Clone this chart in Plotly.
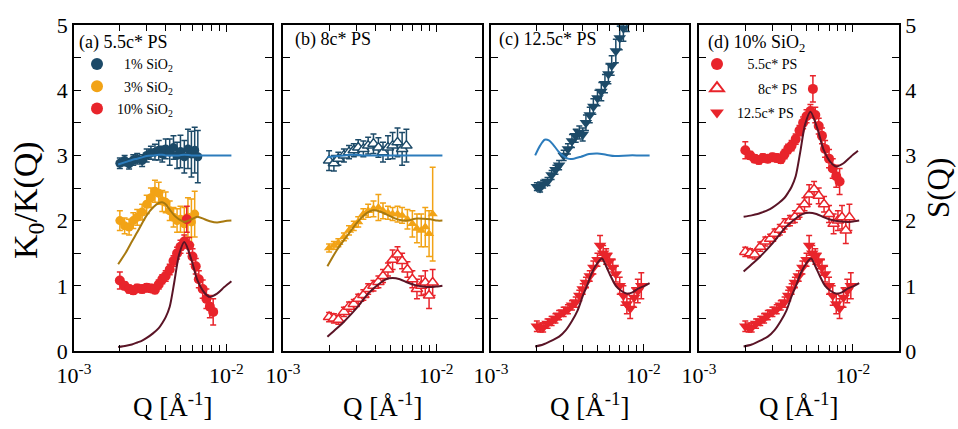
import numpy as np
import plotly.graph_objects as go

# ---------------- data (Q in units of 1e-3 A^-1, values as plotted) ----------------
# Panel (a) 5.5c* PS
QA_BLUE = [2.0,2.15,2.3,2.45,2.6,2.8,3.0,3.2,3.4,3.6,3.8,4.0,4.25,4.5,4.75,5.0,5.3,5.6,5.9,6.2,6.5]
A_BLUE = [2.88,2.92,2.87,2.93,2.95,2.92,3.00,3.04,3.05,3.08,3.02,3.10,3.05,3.12,3.00,3.06,2.98,3.10,3.02,3.08,2.98]
A_BLUE_ERR = [0.08,0.08,0.08,0.08,0.08,0.09,0.10,0.10,0.12,0.15,0.12,0.15,0.20,0.18,0.20,0.25,0.25,0.30,0.35,0.35,0.40]

QA_ORANGE = [2.0,2.15,2.3,2.45,2.6,2.8,3.0,3.2,3.4,3.6,3.8,4.0,4.25,4.5,4.75,5.0,5.3,5.6,5.9,6.2]
A_ORANGE = [2.00,1.92,1.90,2.00,2.05,2.13,2.25,2.35,2.45,2.42,2.30,2.28,2.15,2.05,2.00,2.02,1.95,2.05,1.98,2.10]
A_ORANGE_ERR = [0.15,0.12,0.12,0.12,0.12,0.12,0.14,0.15,0.17,0.17,0.16,0.16,0.15,0.15,0.18,0.20,0.25,0.30,0.35,0.35]

QA_RED = [2.0,2.15,2.3,2.45,2.6,2.8,3.0,3.2,3.4,3.6,3.8,4.0,4.25,4.5,4.75,5.0,5.3,5.5,5.7,6.0,6.3,6.6,7.0,7.4,7.8,8.2]
A_RED = [1.08,1.00,0.95,0.93,0.96,0.95,0.97,0.96,0.94,1.02,1.10,1.15,1.25,1.38,1.50,1.60,1.68,2.02,1.62,1.45,1.30,1.10,0.95,0.80,0.68,0.60]
A_RED_ERR = [0.13,0.06,0.06,0.06,0.06,0.06,0.06,0.06,0.06,0.07,0.07,0.08,0.08,0.08,0.09,0.10,0.10,0.20,0.12,0.12,0.12,0.13,0.14,0.15,0.17,0.20]

QA_LINE = [1.95,2.2,2.4,2.6,2.8,3.0,3.3,3.6,3.8,4.0,4.25,4.55,4.9,5.3,5.9,6.45,7.2,7.8,8.7,9.7,10.8]
A_BLUE_LINE = [2.86,2.90,2.93,2.95,2.97,2.99,3.00,3.01,3.01,3.00,3.00,3.00,3.00,3.01,3.00,3.00,3.00,3.00,3.00,3.00,3.00]
A_ORANGE_LINE = [1.33,1.52,1.68,1.82,1.96,2.08,2.20,2.27,2.28,2.25,2.17,2.08,2.02,1.98,2.02,2.06,2.02,1.99,1.97,1.99,2.00]
A_RED_LINE = [0.06,0.08,0.10,0.13,0.16,0.20,0.27,0.35,0.43,0.52,0.68,1.05,1.48,1.67,1.40,1.09,0.89,0.83,0.88,0.98,1.07]

# Panel (b) 8c* PS
QB_BLUE = [2.0,2.15,2.3,2.5,2.7,2.9,3.1,3.35,3.6,3.9,4.2,4.5,4.85,5.2,5.6,6.0,6.4]
B_BLUE = [2.92,2.88,2.95,3.00,3.05,3.08,3.12,3.10,3.15,3.18,3.12,3.05,3.12,3.15,3.20,3.10,3.15]
B_BLUE_ERR = [0.15,0.12,0.10,0.10,0.10,0.10,0.12,0.12,0.13,0.15,0.15,0.15,0.18,0.20,0.22,0.25,0.25]

QB = [2.0,2.15,2.3,2.5,2.7,2.9,3.1,3.35,3.6,3.9,4.2,4.5,4.85,5.2,5.6,6.0,6.5,7.0,7.5,8.0,8.5,9.0,9.5]
B_ORANGE = [1.58,1.62,1.66,1.75,1.85,1.92,1.98,2.10,2.15,2.18,2.20,2.15,2.12,2.10,2.10,2.08,2.02,1.95,1.88,1.85,1.90,1.80,2.10]
B_ORANGE_ERR = [0.06,0.06,0.06,0.06,0.07,0.07,0.08,0.08,0.10,0.12,0.20,0.12,0.10,0.10,0.12,0.12,0.15,0.20,0.22,0.25,0.30,0.35,0.72]
B_RED = [0.52,0.50,0.48,0.60,0.68,0.72,0.80,0.86,0.95,1.00,1.06,1.15,1.25,1.40,1.48,1.38,1.25,1.10,0.95,1.00,1.05,0.85,1.05]
B_RED_ERR = [0.07,0.07,0.07,0.07,0.07,0.07,0.07,0.08,0.08,0.08,0.09,0.10,0.10,0.15,0.12,0.12,0.12,0.13,0.15,0.15,0.18,0.20,0.20]

QB_LINE = [1.95,2.25,2.5,2.75,3.0,3.3,3.6,3.9,4.3,4.7,5.2,5.8,6.5,7.3,8.2,9.2,10.2,11.0]
B_BLUE_LINE = [2.97,2.99,3.00,3.01,3.01,3.00,3.00,3.00,3.00,3.00,3.00,3.00,3.00,3.00,3.00,3.00,3.00,3.00]
B_ORANGE_LINE = [1.30,1.55,1.70,1.83,1.95,2.06,2.13,2.16,2.14,2.10,2.05,2.01,2.00,2.03,2.03,2.02,2.00,2.00]
B_RED_LINE = [0.22,0.35,0.45,0.55,0.65,0.77,0.88,0.96,1.04,1.10,1.12,1.10,1.05,1.01,0.99,0.98,0.99,1.00]

# Panel (c) 12.5c* PS
QC_BLUE = [2.0,2.1,2.2,2.35,2.5,2.65,2.8,3.0,3.2,3.4,3.6,3.8,4.0,4.2,4.45,4.7,5.0,5.3,5.6,5.9,6.2,6.6,7.0,7.4,7.8]
C_BLUE = [2.52,2.50,2.56,2.60,2.70,2.78,2.85,3.00,3.10,3.22,3.30,3.35,3.32,3.50,3.62,3.75,3.88,3.98,4.10,4.25,4.38,4.60,4.80,4.95,5.10]
C_BLUE_ERR = [0.06,0.06,0.06,0.06,0.07,0.07,0.07,0.08,0.08,0.10,0.10,0.10,0.10,0.12,0.12,0.12,0.12,0.14,0.14,0.15,0.15,0.18,0.18,0.20,0.20]

QC_RED = [2.0,2.1,2.2,2.35,2.5,2.65,2.8,3.0,3.2,3.4,3.6,3.8,4.0,4.2,4.45,4.7,5.0,5.2,5.45,5.7,6.0,6.3,6.6,7.0,7.4,7.8,8.2,8.7,9.2,9.7]
C_RED = [0.38,0.36,0.36,0.42,0.46,0.50,0.55,0.60,0.64,0.70,0.75,0.85,0.95,1.05,1.15,1.28,1.40,1.62,1.50,1.45,1.38,1.28,1.18,1.00,0.85,0.72,0.65,0.82,0.92,1.00]
C_RED_ERR = [0.08,0.07,0.07,0.07,0.07,0.07,0.07,0.07,0.07,0.07,0.08,0.08,0.08,0.08,0.08,0.10,0.10,0.15,0.12,0.12,0.12,0.12,0.12,0.13,0.15,0.15,0.15,0.15,0.18,0.20]

QC_BLUE_LINE = [1.95,2.1,2.25,2.4,2.55,2.75,2.95,3.2,3.5,3.9,4.4,5.0,5.7,6.5,8.0,9.5,11.0]
C_BLUE_LINE = [3.00,3.15,3.24,3.23,3.17,3.07,3.00,2.95,2.95,2.98,3.02,3.03,3.01,2.99,3.00,3.00,3.00]
QC_RED_LINE = [1.95,2.2,2.5,2.8,3.1,3.4,3.7,4.0,4.3,4.6,5.0,5.35,5.7,6.1,6.6,7.2,7.8,8.5,9.3,10.2,11.0]
C_RED_LINE = [0.07,0.10,0.16,0.22,0.32,0.46,0.62,0.84,1.02,1.20,1.35,1.42,1.30,1.15,1.00,0.92,0.88,0.90,0.96,1.00,1.04]

# Panel (d) 10% SiO2: the three red series, vertically shifted
D_OFFSETS = [2, 1, 0]

X_TICKVALS = [1e-3, 1e-2]
X_TICKTEXT = ["10<sup>-3</sup>", "10<sup>-2</sup>"]
X_MINOR = [2e-3, 3e-3, 4e-3, 5e-3, 6e-3, 7e-3, 8e-3, 9e-3]

# ---------------- styling ----------------
NAVY = "#1c4a68"
BLUE_LINE = "#2c7cbc"
ORANGE = "#f2a316"
ORANGE_LINE = "#a8790f"
RED = "#e8242b"
MAROON = "#5a1426"
FONT = "Liberation Serif"

def q(arr):
    return np.array(arr) * 1e-3

fig = go.Figure()

def add_points(ax, qv, yv, err, color, symbol, fill=None, size=9, offset=0.0):
    fig.add_trace(go.Scatter(
        x=q(qv), y=np.array(yv) + offset, mode="markers",
        marker=dict(symbol=symbol, size=size, color=fill if fill else color,
                    line=dict(color=color, width=1.5 if fill else 0)),
        error_y=dict(type="data", array=err, color=color, thickness=1.5, width=3),
        xaxis="x" + ax, yaxis="y" + ax, showlegend=False))

def add_line(ax, qv, yv, color, offset=0.0):
    fig.add_trace(go.Scatter(
        x=q(qv), y=np.array(yv) + offset, mode="lines",
        line=dict(color=color, width=2, shape="spline", smoothing=0.8),
        xaxis="x" + ax, yaxis="y" + ax, showlegend=False, hoverinfo="skip"))

# panel a
add_points("", QA_BLUE, A_BLUE, A_BLUE_ERR, NAVY, "circle")
add_points("", QA_ORANGE, A_ORANGE, A_ORANGE_ERR, ORANGE, "circle")
add_points("", QA_RED, A_RED, A_RED_ERR, RED, "circle", size=10)
add_line("", QA_LINE, A_BLUE_LINE, BLUE_LINE)
add_line("", QA_LINE, A_ORANGE_LINE, ORANGE_LINE)
add_line("", QA_LINE, A_RED_LINE, MAROON)

# panel b
add_points("2", QB, B_ORANGE, B_ORANGE_ERR, ORANGE, "triangle-up", size=9)
add_points("2", QB_BLUE, B_BLUE, B_BLUE_ERR, NAVY, "triangle-up", fill="white", size=10)
add_points("2", QB, B_RED, B_RED_ERR, RED, "triangle-up", fill="white", size=10)
add_line("2", QB_LINE, B_BLUE_LINE, BLUE_LINE)
add_line("2", QB_LINE, B_ORANGE_LINE, ORANGE_LINE)
add_line("2", QB_LINE, B_RED_LINE, MAROON)

# panel c
add_points("3", QC_BLUE, C_BLUE, C_BLUE_ERR, NAVY, "triangle-down", size=11)
add_points("3", QC_RED, C_RED, C_RED_ERR, RED, "triangle-down", size=11)
add_line("3", QC_BLUE_LINE, C_BLUE_LINE, BLUE_LINE)
add_line("3", QC_RED_LINE, C_RED_LINE, MAROON)

# panel d
add_points("4", QA_RED, A_RED, A_RED_ERR, RED, "circle", size=10, offset=D_OFFSETS[0])
add_points("4", QB, B_RED, B_RED_ERR, RED, "triangle-up", fill="white", size=10, offset=D_OFFSETS[1])
add_points("4", QC_RED, C_RED, C_RED_ERR, RED, "triangle-down", size=11, offset=D_OFFSETS[2])
add_line("4", QA_LINE, A_RED_LINE, MAROON, offset=D_OFFSETS[0])
add_line("4", QB_LINE, B_RED_LINE, MAROON, offset=D_OFFSETS[1])
add_line("4", QC_RED_LINE, C_RED_LINE, MAROON, offset=D_OFFSETS[2])

# legend entries
NB = "\u00a0"
def legend_entry(name, color, symbol, legend, ax, fill=None, group=None):
    fig.add_trace(go.Scatter(
        x=[None], y=[None], mode="markers", name=name,
        marker=dict(symbol=symbol, size=12, color=fill if fill else color,
                    line=dict(color=color, width=1.5 if fill else 0)),
        legend=legend, legendgroup=group, xaxis="x" + ax, yaxis="y" + ax))

legend_entry(NB * 2 + "1% SiO<sub>2</sub>", NAVY, "circle", "legend", "", group="a1")
legend_entry(NB * 2 + "3% SiO<sub>2</sub>", ORANGE, "circle", "legend", "", group="a2")
legend_entry("10% SiO<sub>2</sub>", RED, "circle", "legend", "", group="a3")
legend_entry(NB * 3 + "5.5c* PS", RED, "circle", "legend2", "4", group="d1")
legend_entry(NB * 6 + "8c* PS", RED, "triangle-up", "legend2", "4", fill="white", group="d2")
legend_entry("12.5c* PS", RED, "triangle-down", "legend2", "4", group="d3")

# ---------------- layout ----------------
L, R, T, B = 74, 59, 25, 78
W, H = 958, 429
PW = W - L - R
PH = H - T - B
panels_px = [(74, 272), (283, 482), (491, 689), (699, 899)]
domains = [[(a - L) / PW, (b - L) / PW] for a, b in panels_px]

def px_x(p):
    return (p - L) / PW

def px_y(p):
    return (H - B - p) / PH

axis_common = dict(showline=True, linecolor="black", linewidth=1.5, mirror="ticks",
                   ticks="inside", tickcolor="black", tickwidth=1.2, showgrid=False,
                   zeroline=False, tickfont=dict(family=FONT, size=22, color="black"))

layout = dict(
    width=W, height=H, margin=dict(l=L, r=R, t=T, b=B),
    paper_bgcolor="white", plot_bgcolor="white",
    font=dict(family=FONT, color="black"),
    showlegend=True,
)
for i, dom in enumerate(domains):
    sfx = "" if i == 0 else str(i + 1)
    layout["xaxis" + sfx] = dict(
        axis_common, type="log", range=[-3, -1.7], domain=dom,
        anchor="y" + sfx, tickvals=X_TICKVALS, ticktext=X_TICKTEXT, ticklen=7,
        ticklabelstandoff=4,
        minor=dict(tickvals=X_MINOR, ticks="inside", ticklen=6, tickcolor="black", tickwidth=1.2))
    ya = dict(axis_common, range=[0, 5], dtick=1, ticklen=7, anchor="x" + sfx,
              minor=dict(dtick=0.5, ticks="inside", ticklen=7, tickcolor="black", tickwidth=1.2),
              showticklabels=(i in (0, 3)))
    if i == 3:
        ya["side"] = "right"
    layout["yaxis" + sfx] = ya

layout["legend"] = dict(
    x=px_x(77), y=1.0, xanchor="left", yanchor="top", bgcolor="rgba(0,0,0,0)",
    title=dict(text="(a) 5.5c* PS", font=dict(family=FONT, size=18)),
    font=dict(family=FONT, size=14), itemsizing="constant", tracegroupgap=1)
layout["legend2"] = dict(
    x=px_x(697), y=1.0, xanchor="left", yanchor="top", bgcolor="rgba(0,0,0,0)",
    title=dict(text=NB * 2 + "(d) 10% SiO<sub>2</sub>", font=dict(family=FONT, size=18)),
    font=dict(family=FONT, size=14), itemsizing="constant", tracegroupgap=3)

fig.update_layout(**layout)

ann = []
ann.append(dict(text="(b) 8c* PS", x=px_x(293), y=px_y(40), xref="paper", yref="paper",
                xanchor="left", yanchor="middle", showarrow=False, font=dict(family=FONT, size=18)))
ann.append(dict(text="(c) 12.5c* PS", x=px_x(497), y=px_y(40), xref="paper", yref="paper",
                xanchor="left", yanchor="middle", showarrow=False, font=dict(family=FONT, size=18)))
for a, b in panels_px:
    ann.append(dict(text="Q [Å<sup>-1</sup>]", x=px_x((a + b) / 2), y=px_y(405), xref="paper",
                    yref="paper", xanchor="center", yanchor="middle", showarrow=False,
                    font=dict(family=FONT, size=27)))
ann.append(dict(text="K<sub>0</sub>/K(Q)", x=px_x(28), y=px_y(200), xref="paper", yref="paper",
                xanchor="center", yanchor="middle", textangle=-90, showarrow=False,
                font=dict(family=FONT, size=34)))
ann.append(dict(text="S(Q)", x=px_x(938), y=px_y(188), xref="paper", yref="paper",
                xanchor="center", yanchor="middle", textangle=-90, showarrow=False,
                font=dict(family=FONT, size=31)))
fig.update_layout(annotations=ann)

fig.write_html("out.html")
